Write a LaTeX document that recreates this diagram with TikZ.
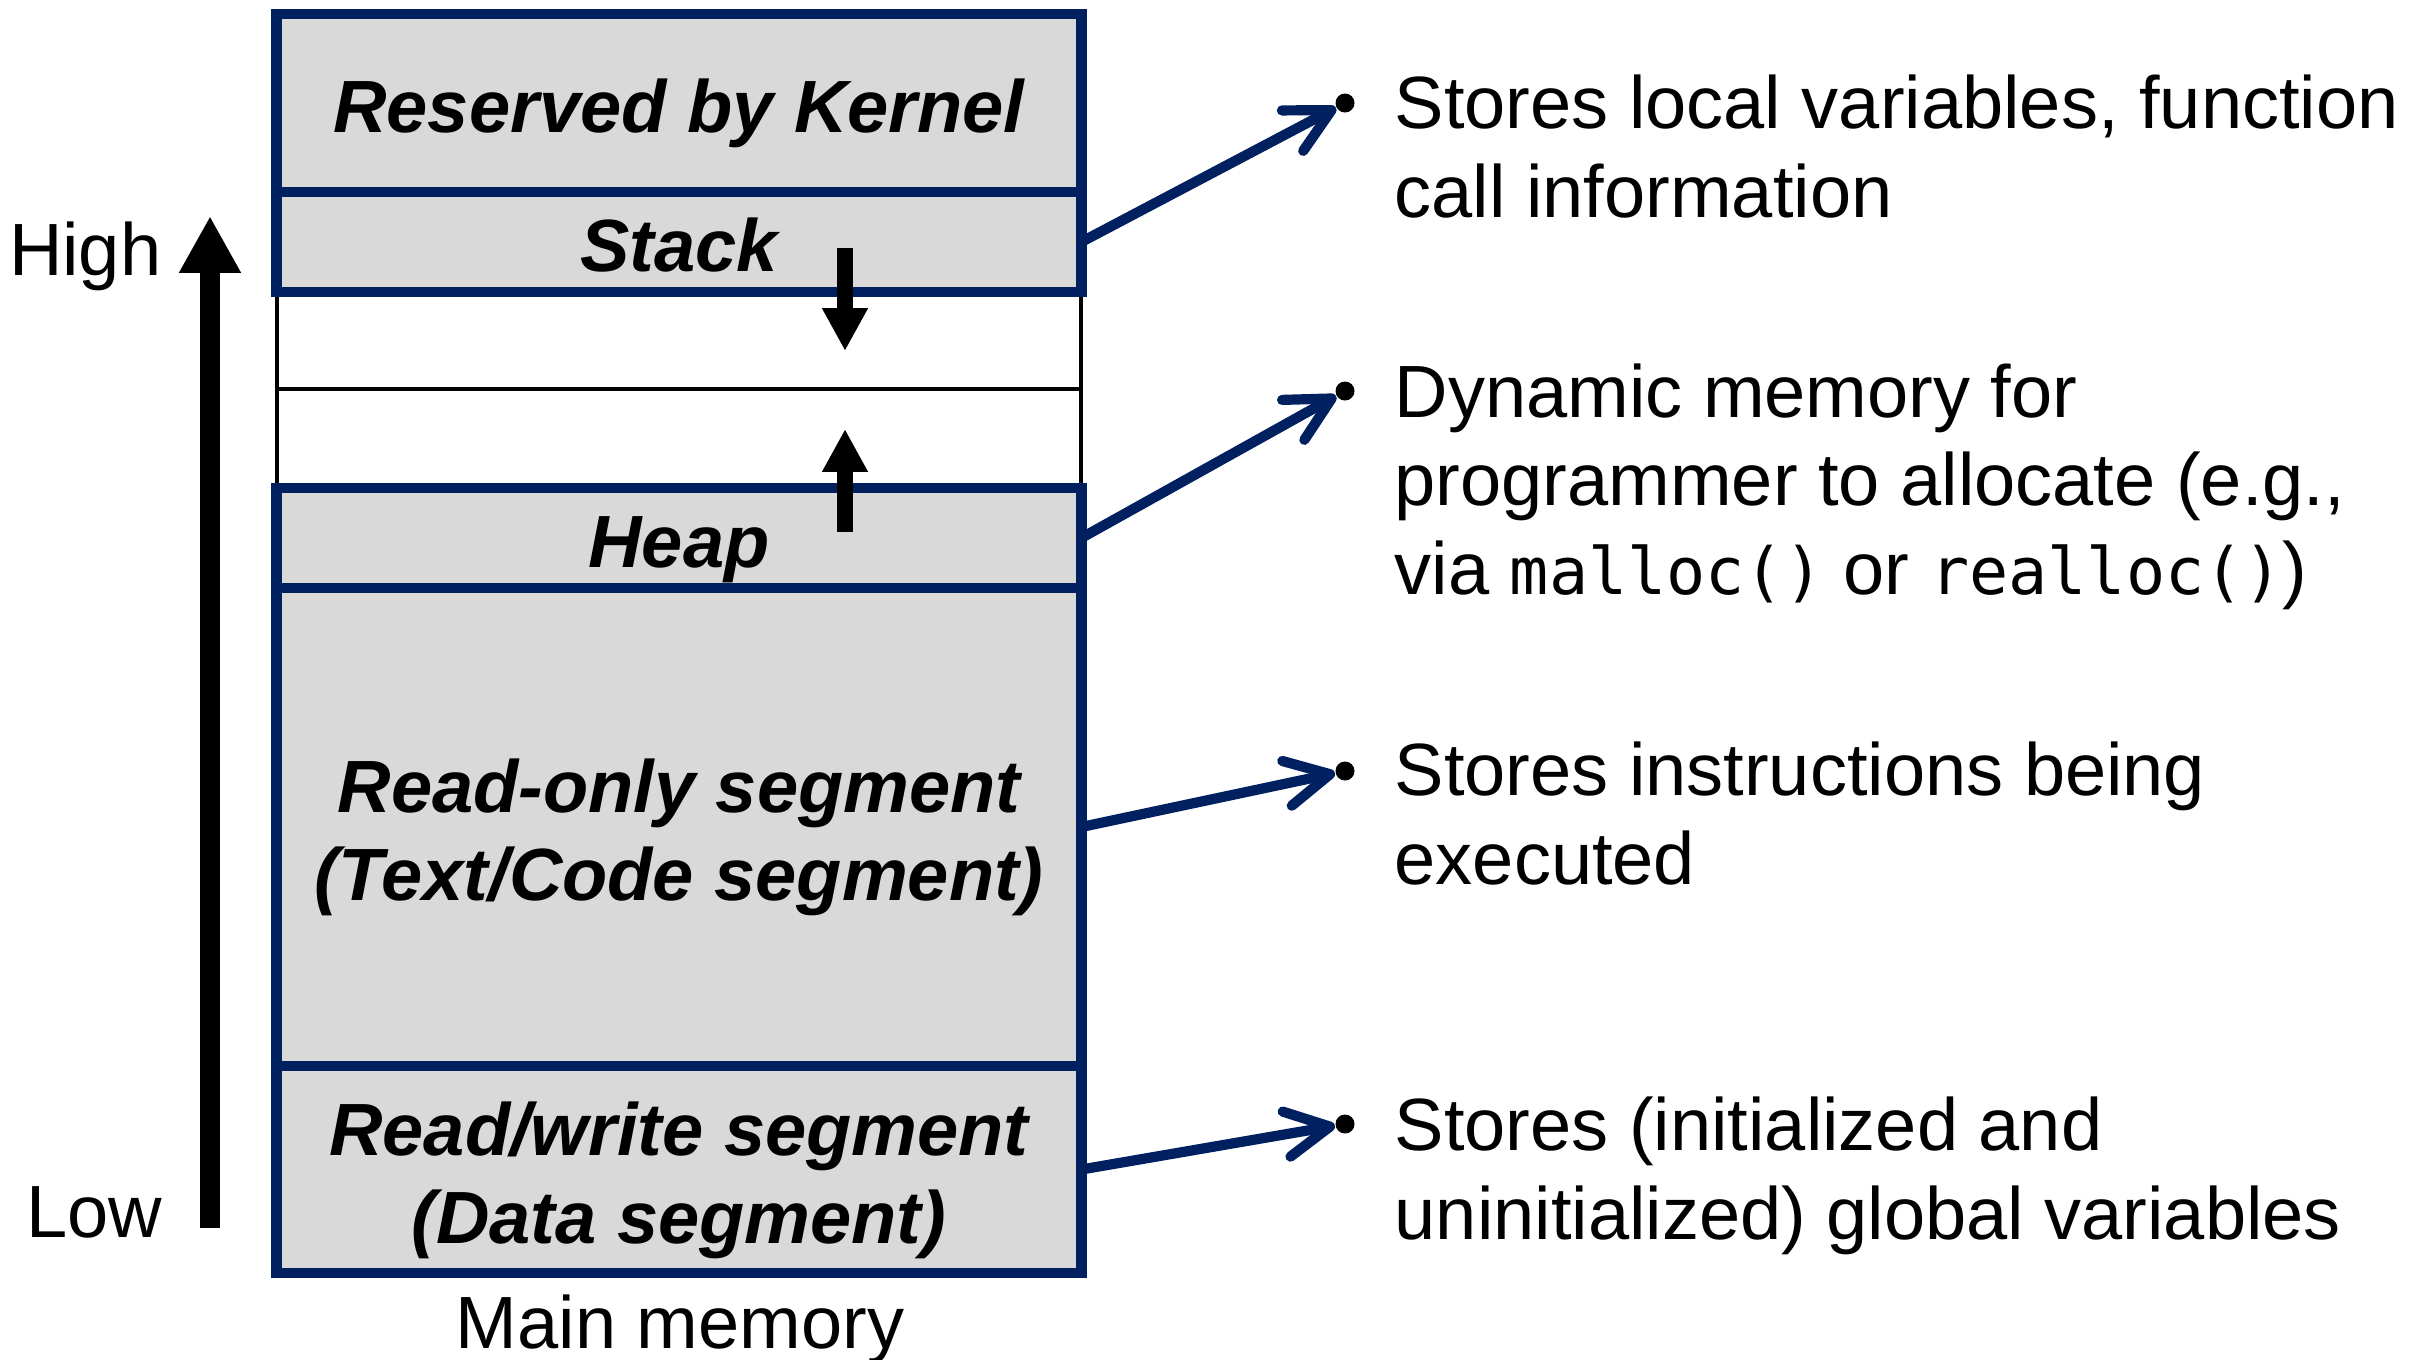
\documentclass[tikz,border=0pt]{standalone}
\usepackage{fontspec}
\setmainfont{Liberation Sans}
\setmonofont{DejaVu Sans Mono}
\usetikzlibrary{arrows.meta,calc}
\definecolor{navy}{HTML}{002060}
\definecolor{segfill}{HTML}{D9D9D9}
\newcommand{\mycode}[1]{{\fontsize{18.5pt}{25pt}\selectfont\ttfamily #1}}
\begin{document}
\begin{tikzpicture}[x=0.01cm,y=-0.01cm,
  seg/.style={draw=navy, fill=segfill, line width=3pt, minimum width=8.04cm, inner sep=0, outer sep=0},
  freebox/.style={draw=black, fill=white, line width=1pt, minimum width=8.04cm, inner sep=0, outer sep=0},
  seglabel/.style={font=\fontsize{21.05pt}{25pt}\selectfont\bfseries\itshape, inner sep=0, align=center},
  desc/.style={font=\fontsize{21.05pt}{25.04pt}\selectfont, inner sep=0, align=left, anchor=base west},
  side/.style={font=\fontsize{21.05pt}{25pt}\selectfont, inner sep=0},
  dotnode/.style={circle, fill=black, inner sep=0, minimum size=0.19cm},
  link/.style={draw=navy, line width=2.9pt, -{Straight Barb[length=12.5pt,width=13pt,round]}, line cap=round},
  growarrow/.style={line width=4.3pt, -{Triangle[length=12.2pt,width=12.2pt]}},
  bigarrow/.style={line width=5.7pt, -{Triangle[length=16.2pt,width=16.5pt]}},
]
\useasboundingbox (0,0) rectangle (2412,1359);

% free space between stack and heap
\node[freebox, minimum height=0.97cm] (free1) at (679,340.5) {};
\node[freebox, minimum height=0.99cm] (free2) at (679,438.5) {};

% segments
\node[seg, minimum height=1.78cm] (res) at (679,103) {};
\node[seg, minimum height=1.00cm] (stack) at (679,242) {};
\node[seg, minimum height=1.00cm] (heap) at (679,538) {};
\node[seg, minimum height=4.78cm] (ro) at (679,827) {};
\node[seg, minimum height=2.07cm] (rw) at (679,1169.5) {};

% segment labels (base = baseline of last line)
\node[seglabel, anchor=base] (lres) at ($(res.center)+(0,29)$) {Reserved by Kernel};
\node[seglabel, anchor=base] (lstack) at ($(stack.center)+(0,29)$) {Stack};
\node[seglabel, anchor=base] (lheap) at ($(heap.center)+(0,29)$) {Heap};
\node[seglabel, anchor=base] (lro) at (679,900) {Read-only segment\\(Text/Code segment)};
\node[seglabel, anchor=base] (lrw) at (679,1243) {Read/write segment\\(Data segment)};

% growth arrows
\coordinate (sg0) at (845,248);
\coordinate (sg1) at (845,351);
\coordinate (hg0) at (845,532);
\coordinate (hg1) at (845,429);
\draw[growarrow] (sg0) -- (sg1);
\draw[growarrow] (hg0) -- (hg1);

% high/low axis
\coordinate (lowend) at (210,1228);
\coordinate (highend) at (210,216);
\draw[bigarrow] (lowend) -- (highend);
\node[side, anchor=base east] (hi) at (162,275) {High};
\node[side, anchor=base east] (lo) at (163,1237) {Low};
\node[side, anchor=base] (mm) at (680,1348) {Main memory};

% bullets
\node[dotnode] (p1) at (1345,103) {};
\node[dotnode] (p2) at (1345,391) {};
\node[dotnode] (p3) at (1345,771) {};
\node[dotnode] (p4) at (1345,1124) {};

% descriptions (base = baseline of last line)
\node[desc] (d1) at (1394,217) {Stores local variables, function\\call information};
\node[desc] (d2) at (1394,594) {Dynamic memory for\\programmer to allocate (e.g.,\\via \mycode{malloc()} or \mycode{realloc()})};
\node[desc] (d3) at (1394,884) {Stores instructions being\\executed};
\node[desc] (d4) at (1394,1239) {Stores (initialized and\\uninitialized) global variables};

% connectors
\draw[link] (stack.east) -- (p1);
\draw[link] (heap.east) -- (p2);
\draw[link] (ro.east) -- (p3);
\draw[link] (rw.east) -- (p4);
\end{tikzpicture}
\end{document}
